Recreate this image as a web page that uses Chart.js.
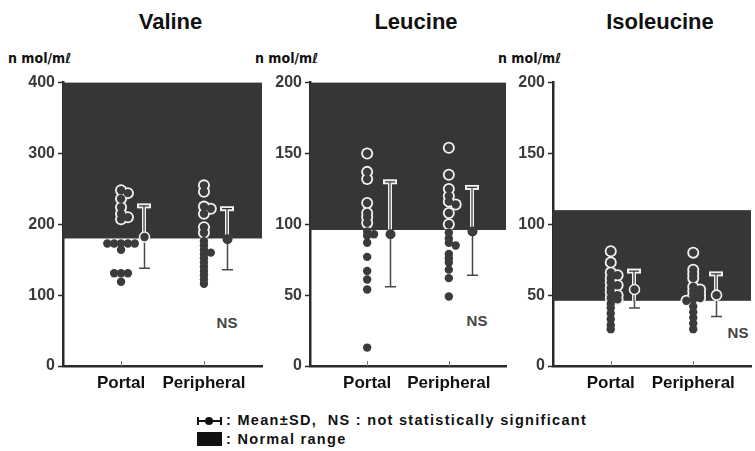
<!DOCTYPE html>
<html lang="en">
<head>
    <meta charset="UTF-8">
    <title>Valine / Leucine / Isoleucine</title>
    <script src="https://cdn.jsdelivr.net/npm/chart.js"></script>
    <style>
        body {
            margin: 0;
            background: #fff;
            width: 755px;
            height: 451px;
            position: relative;
            overflow: hidden;
            font-family: "Liberation Sans", Arial, sans-serif;
            color: #111;
        }
        .box { position: absolute; }
        .title {
            position: absolute;
            font-weight: bold;
            font-size: 22px;
            transform: translateX(-50%);
            white-space: nowrap;
        }
        .unit {
            position: absolute;
            font-family: "DejaVu Sans Condensed", Arial, sans-serif;
            font-weight: bold;
            font-size: 14px;
            white-space: nowrap;
        }
        .ns {
            position: absolute;
            font-weight: bold;
            font-size: 15px;
            color: #444;
            transform: translate(-50%, -50%);
        }
        .legend {
            position: absolute;
            left: 226px;
            font-weight: bold;
            font-size: 14.5px;
            letter-spacing: 1.3px;
            white-space: nowrap;
        }
    </style>
</head>
<body>
    <div id="holder"></div>

    <!-- legend -->
    <div class="box" style="left:198px; top:420px; width:23px; height:2px; background:#111;"></div>
    <div class="box" style="left:197px; top:417px; width:2px; height:8px; background:#111;"></div>
    <div class="box" style="left:220px; top:417px; width:2px; height:8px; background:#111;"></div>
    <div class="box" style="left:205px; top:417px; width:8px; height:8px; border-radius:50%; background:#111;"></div>
    <div class="legend" style="top:412px;">: Mean±SD,&nbsp; NS : not statistically significant</div>
    <div class="box" style="left:197px; top:432px; width:25px; height:14px; background:#111;"></div>
    <div class="legend" style="top:431px;">: Normal range</div>

    <script>
        // categories
        const groups = ['Portal', 'Peripheral'];

        // Valine (n mol/ml)
        const valinePortal = [248, 244, 236, 224, 215, 210, 207, 173, 173, 173, 173, 173, 164, 131, 131, 131, 119];
        const valinePeripheral = [255, 246, 225, 222, 215, 196, 188, 176, 170, 164, 160, 158, 152, 146, 140, 134, 128, 122, 116];
        const valineMean = [182, 179];
        const valineSd = [44, 43];
        const valineNormal = [180, 400];
        const valineTicks = [0, 100, 200, 300, 400];

        // Leucine
        const leucinePortal = [150, 137, 132, 115, 108, 105, 101, 95, 93, 92, 87, 77, 67, 61, 54, 13];
        const leucinePeripheral = [154, 135, 125, 120, 116, 114, 108, 100, 94, 90, 87, 85, 79, 76, 73, 68, 62, 49];
        const leucineMean = [93, 95];
        const leucineSd = [37, 31];
        const leucineNormal = [96, 200];
        const leucineTicks = [0, 50, 100, 150, 200];

        // Isoleucine
        const isoleucinePortal = [81, 73, 66, 64, 62, 59, 57, 55, 52, 50, 48, 47, 44, 41, 37, 33, 29, 26];
        const isoleucinePeripheral = [80, 68, 65, 62, 56, 54, 53, 51, 50, 48, 47, 46, 42, 38, 34, 30, 26];
        const isoleucineMean = [54, 50];
        const isoleucineSd = [13, 15];
        const isoleucineNormal = [46, 110];
        const isoleucineTicks = [0, 50, 100, 150, 200];

        const unitLabel = 'n mol/mℓ';

        // layout (page px)
        const PLOT_TOP = 81, PLOT_BOTTOM = 366;
        const AXIS_W = 45, CANVAS_TOP = 70, CANVAS_H = 332;
        const X_MIN = 0.3, X_MAX = 2.7;
        const EB_OFFSET = 0.28;
        const STEP_PX = 7, MIN_GAP = 4;

        const DARK = '#363636';
        const DOT = '#3b3b3b';
        const RING = '#f2f2f2';

        const panels = [
            { title: 'Valine', sets: [valinePortal, valinePeripheral], mean: valineMean, sd: valineSd,
              normal: valineNormal, ticks: valineTicks, left: 63, right: 266, ns: [227, 322] },
            { title: 'Leucine', sets: [leucinePortal, leucinePeripheral], mean: leucineMean, sd: leucineSd,
              normal: leucineNormal, ticks: leucineTicks, left: 310, right: 510, ns: [477, 320] },
            { title: 'Isoleucine', sets: [isoleucinePortal, isoleucinePeripheral], mean: isoleucineMean, sd: isoleucineSd,
              normal: isoleucineNormal, ticks: isoleucineTicks, left: 553, right: 755, ns: [738, 332] }
        ];

        // spread equal / close values side by side (dot plot)
        function swarm(vals, cat, pxX, pxY) {
            const placed = [];
            const sorted = [...vals].sort((a, b) => b - a);
            return sorted.map(v => {
                for (let k = 0; k < 30; k++) {
                    const off = k === 0 ? 0 : (k % 2 ? 1 : -1) * Math.ceil(k / 2) * STEP_PX;
                    const ok = placed.every(p => Math.hypot(p.off - off, (p.v - v) * pxY) >= MIN_GAP);
                    if (ok) {
                        placed.push({ off, v });
                        return { x: cat + off / pxX, y: v };
                    }
                }
            });
        }

        const rangePlugin = {
            id: 'normalRange',
            beforeDatasetsDraw(chart, args, opts) {
                const { ctx, chartArea: a, scales: { y } } = chart;
                const top = y.getPixelForValue(opts.normal[1]);
                const bot = y.getPixelForValue(opts.normal[0]);
                ctx.save();
                ctx.fillStyle = DARK;
                ctx.fillRect(a.left, top, a.right - a.left, bot - top);
                ctx.restore();
            },
            afterDatasetsDraw(chart, args, opts) {
                const { ctx, chartArea: a, scales: { x, y } } = chart;
                const bandTop = y.getPixelForValue(opts.normal[1]);
                const bandBot = y.getPixelForValue(opts.normal[0]);

                // small inner ticks on x axis
                ctx.save();
                ctx.strokeStyle = '#777';
                ctx.lineWidth = 1;
                groups.forEach((g, i) => {
                    const xp = Math.round(x.getPixelForValue(i + 1)) + 0.5;
                    ctx.beginPath();
                    ctx.moveTo(xp, a.bottom);
                    ctx.lineTo(xp, a.bottom - 5);
                    ctx.stroke();
                });
                ctx.restore();

                groups.forEach((g, i) => {
                    const m = opts.mean[i], s = opts.sd[i];
                    const xp = Math.round(x.getPixelForValue(i + 1 + EB_OFFSET));
                    const yT = y.getPixelForValue(m + s);
                    const yB = y.getPixelForValue(m - s);
                    const yM = y.getPixelForValue(m);

                    // part inside the normal range: light bar
                    ctx.save();
                    ctx.beginPath();
                    ctx.rect(a.left, bandTop, a.right - a.left, bandBot - bandTop);
                    ctx.clip();
                    ctx.strokeStyle = RING;
                    ctx.lineWidth = 4;
                    ctx.beginPath(); ctx.moveTo(xp, yT); ctx.lineTo(xp, yB); ctx.stroke();
                    ctx.fillStyle = RING;
                    ctx.fillRect(xp - 7, yT - 2.5, 14, 5);
                    ctx.fillRect(xp - 7, yB - 2.5, 14, 5);
                    ctx.strokeStyle = DARK;
                    ctx.lineWidth = 1.2;
                    ctx.beginPath(); ctx.moveTo(xp, yT); ctx.lineTo(xp, yB); ctx.stroke();
                    ctx.beginPath(); ctx.moveTo(xp - 5, yT); ctx.lineTo(xp + 5, yT); ctx.stroke();
                    ctx.beginPath(); ctx.moveTo(xp - 5, yB); ctx.lineTo(xp + 5, yB); ctx.stroke();
                    ctx.restore();

                    // part outside: plain dark bar
                    ctx.save();
                    ctx.beginPath();
                    ctx.rect(a.left, a.top, a.right - a.left, a.bottom - a.top);
                    ctx.rect(a.left, bandTop, a.right - a.left, bandBot - bandTop);
                    ctx.clip('evenodd');
                    ctx.strokeStyle = '#4a4a4a';
                    ctx.lineWidth = 1.5;
                    ctx.beginPath(); ctx.moveTo(xp + 0.5, yT); ctx.lineTo(xp + 0.5, yB); ctx.stroke();
                    ctx.beginPath(); ctx.moveTo(xp - 5, yT); ctx.lineTo(xp + 6, yT); ctx.stroke();
                    ctx.beginPath(); ctx.moveTo(xp - 5, yB); ctx.lineTo(xp + 6, yB); ctx.stroke();
                    ctx.restore();

                    // mean dot
                    ctx.save();
                    ctx.beginPath();
                    ctx.arc(xp + 0.5, yM, 5, 0, Math.PI * 2);
                    ctx.fillStyle = DOT;
                    ctx.fill();
                    if (m >= opts.normal[0]) {
                        ctx.strokeStyle = RING;
                        ctx.lineWidth = 1.6;
                        ctx.stroke();
                    }
                    ctx.restore();
                });
            }
        };

        const holder = document.getElementById('holder');

        panels.forEach(p => {
            const plotW = p.right - p.left;
            const plotH = PLOT_BOTTOM - PLOT_TOP;
            const yMax = p.ticks[p.ticks.length - 1];
            const pxX = plotW / (X_MAX - X_MIN);
            const pxY = plotH / yMax;

            // page text
            const t = document.createElement('div');
            t.className = 'title';
            t.style.left = (p.left + plotW / 2 + 6) + 'px';
            t.style.top = '9px';
            t.textContent = p.title;
            holder.appendChild(t);

            const u = document.createElement('div');
            u.className = 'unit';
            u.style.left = (p.left - 55) + 'px';
            u.style.top = '50px';
            u.textContent = unitLabel;
            holder.appendChild(u);

            const ns = document.createElement('div');
            ns.className = 'ns';
            ns.style.left = p.ns[0] + 'px';
            ns.style.top = p.ns[1] + 'px';
            ns.textContent = 'NS';
            holder.appendChild(ns);

            // canvas
            const wrap = document.createElement('div');
            wrap.className = 'box';
            const cw = AXIS_W + plotW + 2;
            wrap.style.left = (p.left - AXIS_W) + 'px';
            wrap.style.top = CANVAS_TOP + 'px';
            const canvas = document.createElement('canvas');
            canvas.width = cw;
            canvas.height = CANVAS_H;
            wrap.appendChild(canvas);
            holder.appendChild(wrap);

            const halo = [], dots = [];
            p.sets.forEach((vals, i) => {
                swarm(vals, i + 1, pxX, pxY).forEach(pt => {
                    dots.push(pt);
                    if (pt.y >= p.normal[0]) halo.push(pt);
                });
            });

            new Chart(canvas.getContext('2d'), {
                type: 'scatter',
                data: {
                    datasets: [
                        { label: 'dots', data: dots, order: 1, pointRadius: 4.2, pointBackgroundColor: DOT,
                          pointBorderWidth: 0, pointHoverRadius: 4.2 },
                        { label: 'ring', data: halo, order: 2, pointRadius: 6, pointBackgroundColor: RING,
                          pointBorderWidth: 0, pointHoverRadius: 6 }
                    ]
                },
                options: {
                    responsive: false,
                    animation: false,
                    events: [],
                    layout: { padding: { top: PLOT_TOP - CANVAS_TOP, right: 2, left: 0, bottom: 0 } },
                    plugins: {
                        legend: { display: false },
                        tooltip: { enabled: false },
                        normalRange: { normal: p.normal, mean: p.mean, sd: p.sd }
                    },
                    scales: {
                        x: {
                            type: 'linear',
                            min: X_MIN,
                            max: X_MAX,
                            z: 1,
                            afterBuildTicks: s => { s.ticks = groups.map((g, i) => ({ value: i + 1 })); },
                            afterFit: s => { s.height = CANVAS_H - (PLOT_BOTTOM - CANVAS_TOP); },
                            grid: { display: true, drawOnChartArea: false, drawTicks: false },
                            border: { color: '#2a2a2a', width: 2.5 },
                            ticks: {
                                padding: 7,
                                color: '#111',
                                font: { family: '"Liberation Sans", Arial, sans-serif', size: 17, weight: 'bold' },
                                callback: v => groups[v - 1] || ''
                            }
                        },
                        y: {
                            min: 0,
                            max: yMax,
                            z: 1,
                            afterBuildTicks: s => { s.ticks = p.ticks.map(v => ({ value: v })); },
                            afterFit: s => { s.width = AXIS_W; },
                            grid: { drawOnChartArea: false, tickLength: 5, tickColor: '#2a2a2a', tickWidth: 1.5 },
                            border: { color: '#2a2a2a', width: 2.5 },
                            ticks: {
                                padding: 3,
                                color: '#3a3a3a',
                                font: { family: '"Liberation Sans", Arial, sans-serif', size: 16, weight: 'bold' }
                            }
                        }
                    }
                },
                plugins: [rangePlugin]
            });
        });
    </script>
</body>
</html>
